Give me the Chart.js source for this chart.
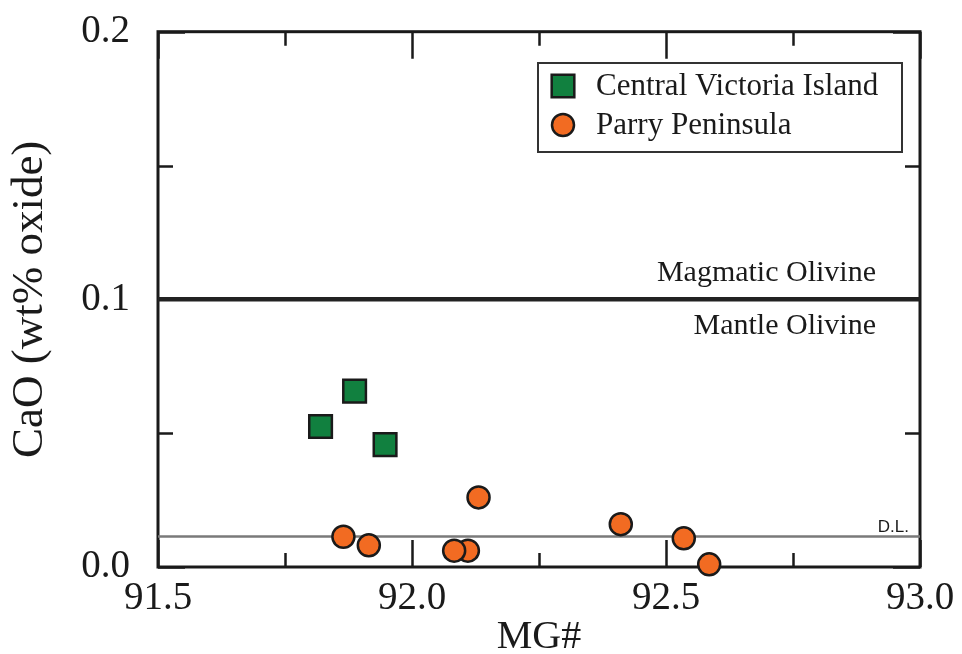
<!DOCTYPE html>
<html>
<head>
<meta charset="utf-8">
<script src="https://cdn.jsdelivr.net/npm/chart.js@4.4.1/dist/chart.umd.min.js"></script>
<style>
  html, body { margin: 0; padding: 0; background: #fff; }
  #wrap { width: 962px; height: 654px; }
</style>
</head>
<body>
<div id="wrap"><canvas id="cao"></canvas></div>
<script>
// olivine CaO vs MG# for two kimberlite fields
const mgCentral = [91.820, 91.887, 91.947];
const caoCentral = [0.0525, 0.0657, 0.0457];

const mgParry = [91.865, 91.915, 92.110, 92.083, 92.131, 92.411, 92.535, 92.585];
const caoParry = [0.0113, 0.0081, 0.0061, 0.0061, 0.0260, 0.0160, 0.0107, 0.0010];

const magmaticLimit = 0.1;      // magmatic / mantle boundary
const detectionLimit = 0.0114;  // D.L.

const xTickLabels = ['91.5', '92.0', '92.5', '93.0'];
const xTickValues = [91.5, 92.0, 92.5, 93.0];
const yTickLabels = ['0.0', '0.1', '0.2'];
const yTickValues = [0, 0.1, 0.2];

const INK = '#1a1a1a';
const GREEN = '#11803f';
const ORANGE = '#f26b22';

function labelFor(values, labels, v) {
    const i = values.findIndex(t => Math.abs(t - v) < 1e-6);
    return i >= 0 ? labels[i] : '';
}

function isMajor(values, v) {
    return values.some(t => Math.abs(t - v) < 1e-6);
}

const toPoints = (xs, ys) => xs.map((x, i) => ({ x, y: ys[i] }));

// frame + inward ticks on all four sides
const framePlugin = {
    id: 'frame',
    beforeDatasetsDraw(chart) {
        const { ctx, chartArea: a, scales: { x, y } } = chart;
        ctx.save();
        ctx.strokeStyle = INK;
        ctx.lineWidth = 2.5;
        ctx.beginPath();
        x.ticks.forEach(t => {
            const px = Math.round(x.getPixelForValue(t.value)) + 0.5;
            const len = isMajor(xTickValues, t.value) ? 27 : 14;
            ctx.moveTo(px, a.bottom); ctx.lineTo(px, a.bottom - len);
            ctx.moveTo(px, a.top); ctx.lineTo(px, a.top + len);
        });
        y.ticks.forEach(t => {
            const py = Math.round(y.getPixelForValue(t.value)) + 0.5;
            const len = isMajor(yTickValues, t.value) ? 27 : 15;
            ctx.moveTo(a.left, py); ctx.lineTo(a.left + len, py);
            ctx.moveTo(a.right, py); ctx.lineTo(a.right - len, py);
        });
        ctx.stroke();
        ctx.lineWidth = 3;
        ctx.strokeRect(a.left, a.top, a.right - a.left, a.bottom - a.top);
        ctx.restore();
    }
};

// region labels, D.L. tag and the boxed legend
const notesPlugin = {
    id: 'notes',
    afterDatasetsDraw(chart) {
        const { ctx, chartArea: a, scales: { y } } = chart;
        const yLim = y.getPixelForValue(magmaticLimit);
        const yDl = y.getPixelForValue(detectionLimit);
        ctx.save();
        ctx.fillStyle = INK;
        ctx.font = '30px "Liberation Serif"';
        ctx.textAlign = 'right';
        ctx.textBaseline = 'alphabetic';
        ctx.fillText('Magmatic Olivine', a.right - 44, yLim - 18);
        ctx.fillText('Mantle Olivine', a.right - 44, yLim + 35);

        ctx.font = '17px "Liberation Sans"';
        ctx.fillText('D.L.', a.right - 11, yDl - 4);

        // legend box
        const lx = 538, ly = 63, lw = 364, lh = 89;
        ctx.fillStyle = '#fff';
        ctx.fillRect(lx, ly, lw, lh);
        ctx.strokeStyle = '#333';
        ctx.lineWidth = 2;
        ctx.strokeRect(lx, ly, lw, lh);

        ctx.textAlign = 'left';
        ctx.textBaseline = 'middle';
        ctx.font = '31px "Liberation Serif"';
        chart.data.datasets.filter(d => d.inLegend).forEach((d, i) => {
            const cy = ly + 23 + i * 39;
            ctx.fillStyle = d.backgroundColor;
            ctx.strokeStyle = d.borderColor;
            ctx.lineWidth = d.borderWidth;
            ctx.beginPath();
            if (d.pointStyle === 'rect') {
                const s = d.pointRadius * Math.SQRT1_2;
                ctx.rect(lx + 25 - s, cy - s, 2 * s, 2 * s);
            } else {
                ctx.arc(lx + 25, cy, d.pointRadius, 0, Math.PI * 2);
            }
            ctx.fill();
            ctx.stroke();
            ctx.fillStyle = INK;
            ctx.fillText(d.label, lx + 58, cy + 1);
        });
        ctx.restore();
    }
};

Chart.defaults.font.family = '"Liberation Serif", "Times New Roman", serif';
Chart.defaults.color = INK;

new Chart(document.getElementById('cao'), {
    type: 'scatter',
    data: {
        datasets: [
            {
                label: 'Central Victoria Island',
                inLegend: true,
                data: toPoints(mgCentral, caoCentral),
                pointStyle: 'rect',
                pointRadius: 16,
                backgroundColor: GREEN,
                borderColor: INK,
                borderWidth: 2.5,
                clip: false,
                order: 0
            },
            {
                label: 'Parry Peninsula',
                inLegend: true,
                data: toPoints(mgParry, caoParry),
                pointStyle: 'circle',
                pointRadius: 11,
                backgroundColor: ORANGE,
                borderColor: INK,
                borderWidth: 2.5,
                clip: false,
                order: 0
            },
            {
                type: 'line',
                label: 'boundary',
                data: [{ x: 91.5, y: magmaticLimit }, { x: 93.0, y: magmaticLimit }],
                borderColor: '#222',
                borderWidth: 4.5,
                pointRadius: 0,
                order: 2
            },
            {
                type: 'line',
                label: 'D.L.',
                data: [{ x: 91.5, y: detectionLimit }, { x: 93.0, y: detectionLimit }],
                borderColor: '#7a7a7a',
                borderWidth: 2.5,
                pointRadius: 0,
                order: 2
            }
        ]
    },
    options: {
        responsive: true,
        maintainAspectRatio: false,
        animation: false,
        layout: { padding: { top: 22, right: 42, left: 0, bottom: 0 } },
        plugins: {
            legend: { display: false },
            tooltip: { enabled: false }
        },
        scales: {
            x: {
                type: 'linear',
                min: 91.5,
                max: 93.0,
                grid: { display: false },
                border: { display: false },
                afterFit: s => { s.height = 87; },
                ticks: {
                    stepSize: 0.25,
                    padding: 0,
                    maxRotation: 0,
                    autoSkip: false,
                    font: { size: 39 },
                    callback: v => labelFor(xTickValues, xTickLabels, v)
                },
                title: {
                    display: true,
                    text: 'MG#',
                    font: { size: 40, lineHeight: 0.85 },
                    padding: { top: 0, bottom: 0 }
                }
            },
            y: {
                type: 'linear',
                min: 0,
                max: 0.2,
                grid: { display: false },
                border: { display: false },
                afterFit: s => { s.width = 158; },
                ticks: {
                    stepSize: 0.05,
                    padding: 20,
                    autoSkip: false,
                    font: { size: 39, lineHeight: 0.6 },
                    callback: v => labelFor(yTickValues, yTickLabels, v)
                },
                title: {
                    display: true,
                    text: 'CaO (wt% oxide)',
                    font: { size: 45, lineHeight: 1 },
                    padding: { top: 8, bottom: 0 }
                }
            }
        }
    },
    plugins: [framePlugin, notesPlugin]
});
</script>
</body>
</html>
